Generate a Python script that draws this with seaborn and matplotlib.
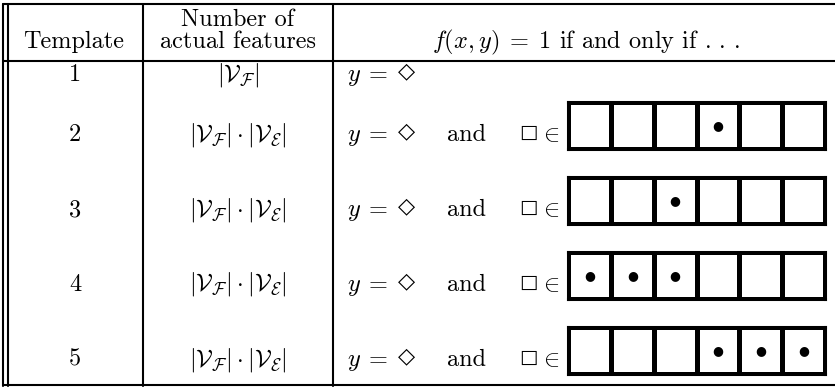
import numpy as np
import matplotlib
matplotlib.use("Agg")
import matplotlib.pyplot as plt
from matplotlib.colors import ListedColormap
import seaborn as sns

sns.set_theme(style="white")
plt.rcParams['mathtext.fontset'] = 'cm'
plt.rcParams['axes.formatter.use_mathtext'] = True

# table content
templates = ['1', '2', '3', '4', '5']
n_features = [r'$|\mathcal{V}_\mathcal{F}|$'] + [r'$|\mathcal{V}_\mathcal{F}|\cdot|\mathcal{V}_\mathcal{E}|$'] * 4
has_slot = [False, True, True, True, True]
n_cells = 6
dot_cells = [[], [3], [2], [0, 1, 2], [3, 4, 5]]

header_template = 'Template'
header_features = ['Number of', 'actual features']
header_cond = r'$f(x,y)\;=\;1$ if and only if . . .'

W, H = 835, 389
FS = 17.5
LW = 1.5
fig = plt.figure(figsize=(W / 100, H / 100), dpi=100)
ax = fig.add_axes([0, 0, 1, 1])
ax.set_xlim(0, W)
ax.set_ylim(H, 0)
ax.axis('off')

txt = dict(family='cmr10', fontsize=FS, color='black', va='baseline')
sym = dict(family='DejaVu Sans', color='black', va='center')

# rules
ax.plot([3, 3], [4, 386], color='black', lw=LW)
ax.plot([8, 8], [4, 386], color='black', lw=LW)
ax.plot([143, 143], [4, 386], color='black', lw=LW)
ax.plot([333, 333], [4, 386], color='black', lw=LW)
for yy in [4, 61, 385]:
    ax.plot([3, W], [yy, yy], color='black', lw=LW)

# header
ax.text(74, 48, header_template, ha='center', **txt)
ax.text(238, 26, header_features[0], ha='center', **txt)
ax.text(238, 48, header_features[1], ha='center', **txt)
ax.text(586, 48, header_cond, ha='center', **txt)

# rows
baselines = [81, 141, 216, 291, 366]
box_tops = [None, 102, 177, 252, 327]
box_x0, box_x1, box_h = 568, 825, 47

for i, t in enumerate(templates):
    yb = baselines[i]
    ax.text(75, yb, t, ha='center', **txt)
    ax.text(238, yb, n_features[i], ha='center', **txt)
    ax.text(347, yb, r'$y$', ha='left', **txt)
    ax.text(369, yb, '=', ha='left', **txt)
    ax.text(398, yb - 10, '◇', ha='left', fontsize=16, **sym)
    if not has_slot[i]:
        continue
    ax.text(447, yb, 'and', ha='left', **txt)
    ax.text(519, yb - 9, '□', ha='left', fontsize=14, **sym)
    ax.text(539, yb, r'$\in$', ha='left', **txt)

    grid = np.zeros((1, n_cells))
    labels = np.full((1, n_cells), '', dtype=object)
    for c in dot_cells[i]:
        labels[0, c] = '●'
    top = box_tops[i]
    ax_in = fig.add_axes([box_x0 / W, 1 - (top + box_h) / H,
                          (box_x1 - box_x0) / W, box_h / H])
    sns.heatmap(grid, ax=ax_in, cmap=ListedColormap(['white']), vmin=0, vmax=1,
                cbar=False, linewidths=2.2, linecolor='black',
                annot=labels, fmt='',
                annot_kws={'fontsize': 9, 'color': 'black', 'family': 'DejaVu Sans'},
                xticklabels=False, yticklabels=False)
    for s in ax_in.spines.values():
        s.set_visible(True)
        s.set_linewidth(2.2)
        s.set_color('black')

fig.savefig('out.png', dpi=100)
